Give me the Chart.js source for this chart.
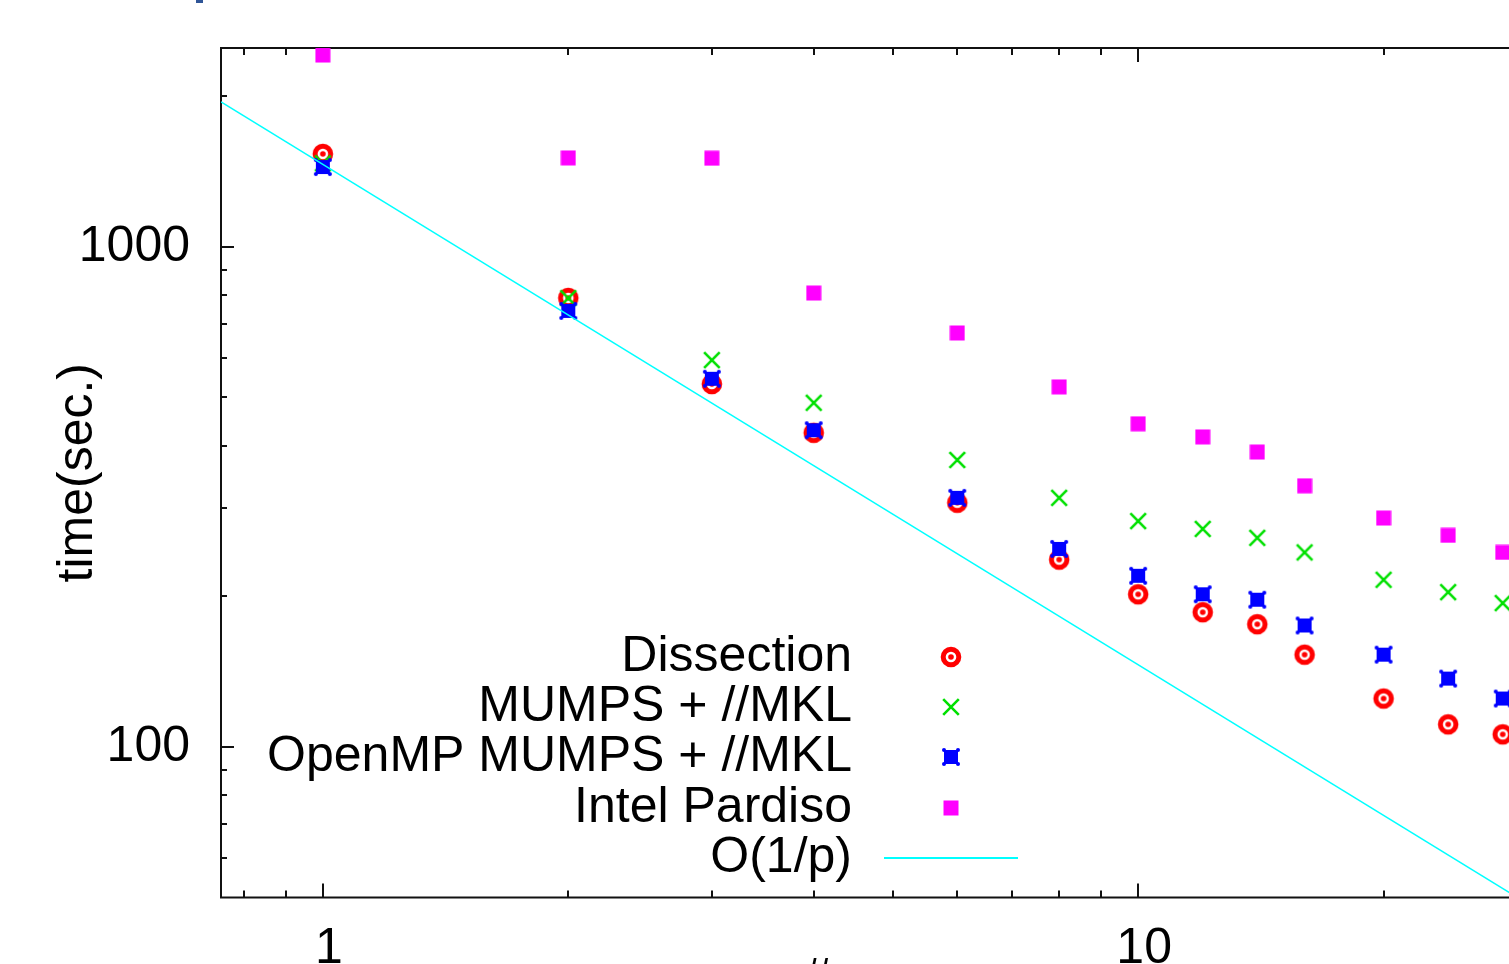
<!DOCTYPE html>
<html><head><meta charset="utf-8">
<script src="https://cdn.jsdelivr.net/npm/chart.js@4/dist/chart.umd.min.js"></script>
<style>
html,body{margin:0;padding:0;background:#fff;overflow:hidden;width:1509px;height:964px}
canvas{display:block}
</style></head>
<body>
<canvas id="c" width="1600" height="1040" style="width:1600px;height:1040px"></canvas>
<script>
// ---- data ----
const cores        = [1, 2, 3, 4, 6, 8, 10, 12, 14, 16, 20, 24, 28];
const dissection   = [1535, 791, 532, 425, 308, 237, 202, 186, 176, 153, 125, 111, 106];
const mumps        = [1470, 790, 594, 488, 375, 315, 283, 273, 262, 245, 216, 204, 194];
const openmpMumps  = [1445, 745, 545, 430, 315, 249, 220, 202, 197, 175, 153, 137, 125];
const pardiso      = [2420, 1507, 1505, 809, 673, 525, 443, 417, 389, 333, 287, 265, 245];
const refLineX     = [0.75, 32];
const refLineY     = [1950, 45.6];
const seriesLabels = ['Dissection', 'MUMPS + //MKL', 'OpenMP MUMPS + //MKL', 'Intel Pardiso', 'O(1/p)'];
const xMajorTicks  = [1, 10];
const xMinorTicks  = [0.8, 0.9, 2, 3, 4, 5, 6, 7, 8, 9, 20, 30];
const yMajorTicks  = [100, 1000];
const yMinorTicks  = [60, 70, 80, 90, 200, 300, 400, 500, 600, 700, 800, 900, 2000];
const xTitle = '# cores';
const yTitle = 'time(sec.)';

// ---- layout constants ----
const W = 1600, H = 1040;
const FONT = "'Liberation Sans', Arial, Helvetica, sans-serif";
const FS = 50;

function pts(xs, ys) { return xs.map((x, i) => ({ x: x, y: ys[i] })); }

function marker(size, draw) {
  const c = document.createElement('canvas');
  c.width = size; c.height = size;
  const g = c.getContext('2d');
  g.translate(size / 2, size / 2);
  draw(g);
  return c;
}
const redMarker = marker(26, g => {
  g.strokeStyle = '#ff0000'; g.lineWidth = 5;
  g.beginPath(); g.arc(0, 0, 7.8, 0, Math.PI * 2); g.stroke();
  g.fillStyle = '#ff0000';
  g.beginPath(); g.arc(0, 0, 2.8, 0, Math.PI * 2); g.fill();
});
const greenMarker = marker(22, g => {
  g.strokeStyle = '#00e000'; g.lineWidth = 2.6;
  g.beginPath();
  g.moveTo(-7.8, -7.8); g.lineTo(7.8, 7.8);
  g.moveTo(-7.8, 7.8); g.lineTo(7.8, -7.8);
  g.stroke();
});
const blueMarker = marker(24, g => {
  g.fillStyle = '#0000ff';
  g.fillRect(-7, -7, 14, 14);
  [[-1, -1], [1, -1], [-1, 1], [1, 1]].forEach(([sx, sy]) => {
    g.beginPath(); g.arc(sx * 7, sy * 7, 2, 0, Math.PI * 2); g.fill();
  });
});
const magentaMarker = marker(16, g => {
  g.fillStyle = '#ff00ff';
  g.fillRect(-7.5, -7.5, 15, 15);
});

const framePlugin = {
  id: 'frame',
  beforeDatasetsDraw(chart) {
    const { ctx, chartArea: a, scales: { x, y } } = chart;
    ctx.save();
    ctx.strokeStyle = '#111';
    ctx.lineWidth = 2;
    ctx.beginPath();
    const xt = (list, len) => list.forEach(v => {
      const p = Math.round(x.getPixelForValue(v));
      ctx.moveTo(p, a.bottom); ctx.lineTo(p, a.bottom - len);
      ctx.moveTo(p, a.top); ctx.lineTo(p, a.top + len);
    });
    const yt = (list, len) => list.forEach(v => {
      const p = Math.round(y.getPixelForValue(v));
      ctx.moveTo(a.left, p); ctx.lineTo(a.left + len, p);
      ctx.moveTo(a.right, p); ctx.lineTo(a.right - len, p);
    });
    xt(xMajorTicks, 14); xt(xMinorTicks, 7);
    yt(yMajorTicks, 13); yt(yMinorTicks, 6);
    ctx.stroke();
    ctx.strokeRect(a.left, a.top, a.right - a.left, a.bottom - a.top);
    ctx.restore();
  }
};

const legendPlugin = {
  id: 'gpLegend',
  afterDatasetsDraw(chart) {
    const ctx = chart.ctx;
    const rows = [657, 707, 757, 808, 858];
    const textRight = 852, symX = 951;
    ctx.save();
    ctx.font = FS + 'px ' + FONT;
    ctx.fillStyle = '#000';
    ctx.textAlign = 'right';
    ctx.textBaseline = 'middle';
    chart.data.datasets.forEach((ds, i) => {
      const yy = rows[i];
      ctx.fillText(ds.label, textRight, yy);
      if (ds.showLine) {
        ctx.strokeStyle = ds.borderColor; ctx.lineWidth = 2;
        ctx.beginPath(); ctx.moveTo(884, yy); ctx.lineTo(1018, yy); ctx.stroke();
      } else {
        const img = ds.pointStyle;
        ctx.drawImage(img, symX - img.width / 2, yy - img.height / 2);
      }
    });
    ctx.restore();
  },
  afterDraw(chart) {
    const ctx = chart.ctx;
    ctx.save();
    ctx.fillStyle = '#2f5597';
    ctx.fillRect(196, 0, 7, 3);
    ctx.restore();
  }
};

function noPad(s) { s.paddingTop = 0; s.paddingBottom = 0; s.paddingLeft = 0; s.paddingRight = 0; }

new Chart(document.getElementById('c'), {
  type: 'scatter',
  data: {
    datasets: [
      { label: seriesLabels[0], data: pts(cores, dissection), pointStyle: redMarker, pointRadius: 5, showLine: false, order: 5 },
      { label: seriesLabels[1], data: pts(cores, mumps), pointStyle: greenMarker, pointRadius: 5, showLine: false, order: 4 },
      { label: seriesLabels[2], data: pts(cores, openmpMumps), pointStyle: blueMarker, pointRadius: 5, showLine: false, order: 3 },
      { label: seriesLabels[3], data: pts(cores, pardiso), pointStyle: magentaMarker, pointRadius: 5, showLine: false, order: 2 },
      { label: seriesLabels[4], data: pts(refLineX, refLineY), borderColor: '#00ffff', borderWidth: 1.5, pointRadius: 0, showLine: true, order: 1 }
    ]
  },
  options: {
    responsive: false,
    animation: false,
    events: [],
    layout: { padding: { left: 0, top: 48, right: W - 1550, bottom: 0 } },
    plugins: { legend: { display: false }, tooltip: { enabled: false } },
    scales: {
      x: {
        type: 'logarithmic', min: 0.75, max: 32, position: 'bottom',
        afterBuildTicks: s => { s.ticks = xMajorTicks.map(v => ({ value: v, major: true })); },
        afterFit: s => { s.height = H - 897.5; noPad(s); },
        grid: { display: false, drawTicks: false },
        border: { display: false },
        ticks: { font: { family: FONT, size: FS }, color: '#000', padding: 22, labelOffset: 6, maxRotation: 0, autoSkip: false, callback: v => String(v) },
        title: { display: true, text: xTitle, font: { family: FONT, size: FS }, color: '#000', padding: { top: 0, bottom: 31 } }
      },
      y: {
        type: 'logarithmic', min: 50, max: 2500, position: 'left',
        afterBuildTicks: s => { s.ticks = yMajorTicks.map(v => ({ value: v, major: true })); },
        afterFit: s => { s.width = 221; noPad(s); },
        grid: { display: false, drawTicks: false },
        border: { display: false },
        ticks: { font: { family: FONT, size: FS }, color: '#000', padding: 31, autoSkip: false, callback: v => String(v) },
        title: { display: true, text: yTitle, font: { family: FONT, size: FS }, color: '#000', padding: { top: 48, bottom: 0 } }
      }
    }
  },
  plugins: [framePlugin, legendPlugin]
});
</script>
</body></html>
